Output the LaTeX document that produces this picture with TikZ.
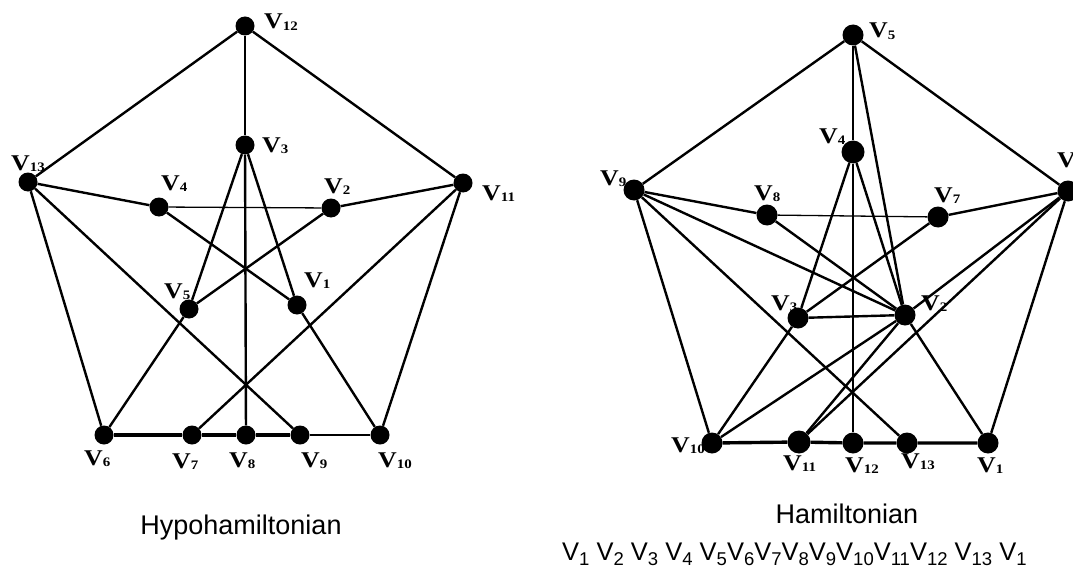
\documentclass[tikz,border=0pt]{standalone}
\usepackage{fontspec}
\setmainfont{Liberation Serif}
\newfontfamily\arialf{Liberation Sans}
\usepackage{graphicx}
\newcommand\vl[1]{\scalebox{1.15}[1]{\fontsize{22.5}{22.5}\selectfont\bfseries V\raisebox{-1.2pt}{\fontsize{13}{13}\selectfont #1}}}
\newcommand\cv[1]{V\raisebox{-5pt}{\fontsize{18.5}{18.5}\selectfont #1}}
\begin{document}
\begin{tikzpicture}[x=1pt,y=-1pt,
  dotA/.style={circle,fill=black,inner sep=0pt,minimum size=19pt},
  dotB/.style={circle,fill=black,inner sep=0pt,minimum size=21pt},
  dotC/.style={circle,fill=black,inner sep=0pt,minimum size=23pt},
  lab/.style={anchor=base west,inner sep=0pt},
  edge/.style={line width=2.4pt},
  thinedge/.style={line width=1.3pt},
  base/.style={line width=3.4pt},
  capt/.style={font=\arialf\fontsize{27}{27}\selectfont,anchor=base,inner sep=0pt}]
\useasboundingbox (0,0) rectangle (1073,575);
% ---------- left graph ----------
\node[dotA] (a12) at (245,26) {};
\node[dotA] (a3) at (245,145) {};
\node[dotA] (a13) at (28,182) {};
\node[dotA] (a11) at (463,183) {};
\node[dotA] (a4) at (159,207) {};
\node[dotA] (a2) at (331,208) {};
\node[dotA] (a5) at (189,309) {};
\node[dotA] (a1) at (297,305) {};
\node[dotA] (a6) at (104,435) {};
\node[dotA] (a7) at (192,435) {};
\node[dotA] (a8) at (246,435) {};
\node[dotA] (a9) at (300,435) {};
\node[dotA] (a10) at (380,435) {};
\node[lab] (la12) at (264,29) {\vl{12}};
\node[lab] (la3) at (262,152) {\vl{3}};
\node[lab] (la13) at (11,170) {\vl{13}};
\node[lab] (la4) at (161,190) {\vl{4}};
\node[lab] (la2) at (324,193) {\vl{2}};
\node[lab] (la11) at (482,200) {\vl{11}};
\node[lab] (la1) at (304,287) {\vl{1}};
\node[lab] (la5) at (164,298) {\vl{5}};
\node[lab] (la6) at (84,465) {\vl{6}};
\node[lab] (la7) at (172,468) {\vl{7}};
\node[lab] (la8) at (229,467) {\vl{8}};
\node[lab] (la9) at (301,467) {\vl{9}};
\node[lab] (la10) at (378,467) {\vl{10}};
\draw[edge] (a12) -- (a13);
\draw[edge] (a12) -- (a11);
\draw[edge] (a12) -- (a3);
\draw[edge] (a3) -- (a8);
\draw[edge] (a3) -- (a5);
\draw[edge] (a3) -- (a1);
\draw[edge] (a13) -- (a4);
\draw[thinedge] (a4) -- (a2);
\draw[edge] (a2) -- (a11);
\draw[edge] (a13) -- (a6);
\draw[edge] (a13) -- (a9);
\draw[edge] (a4) -- (a1);
\draw[edge] (a1) -- (a10);
\draw[edge] (a2) -- (a5);
\draw[edge] (a5) -- (a6);
\draw[edge] (a11) -- (a7);
\draw[edge] (a11) -- (a10);
\draw[base] (a6) -- (a7) -- (a8) -- (a9);
\draw[edge] (a9) -- (a10);
% ---------- right graph ----------
\node[dotB] (b5) at (853,35) {};
\node[dotC] (b4) at (853,152) {};
\node[dotB] (b9) at (634,190) {};
\node[dotB] (b6) at (1068,191) {};
\node[dotB] (b8) at (767,215) {};
\node[dotB] (b7) at (938,217) {};
\node[dotB] (b3) at (798,318) {};
\node[dotB] (b2) at (905,315) {};
\node[dotB] (b10) at (712,443) {};
\node[dotC] (b11) at (799,442) {};
\node[dotB] (b12) at (853,443) {};
\node[dotB] (b13) at (907,443) {};
\node[dotB] (b1) at (988,443) {};
\node[lab] (lb5) at (869,38) {\vl{5}};
\node[lab] (lb4) at (819,143) {\vl{4}};
\node[lab] (lb9) at (600,185) {\vl{9}};
\node[lab] (lb8) at (754,200) {\vl{8}};
\node[lab] (lb7) at (934,202) {\vl{7}};
\node[lab] (lb6) at (1057,167) {\vl{6}};
\node[lab] (lb3) at (771,310) {\vl{3}};
\node[lab] (lb2) at (921,310) {\vl{2}};
\node[lab] (lb10) at (671,452) {\vl{10}};
\node[lab] (lb11) at (783,470) {\vl{11}};
\node[lab] (lb12) at (845,472) {\vl{12}};
\node[lab] (lb13) at (901,468) {\vl{13}};
\node[lab] (lb1) at (977,472) {\vl{1}};
\draw[edge] (b5) -- (b9);
\draw[edge] (b5) -- (b6);
\draw[edge] (b5) -- (b4);
\draw[edge] (b4) -- (b12);
\draw[edge] (b5) -- (b2);
\draw[edge] (b4) -- (b2);
\draw[edge] (b4) -- (b3);
\draw[edge] (b9) -- (b8);
\draw[thinedge] (b8) -- (b7);
\draw[edge] (b7) -- (b6);
\draw[edge] (b9) -- (b10);
\draw[edge] (b9) -- (b13);
\draw[edge] (b9) -- (b2);
\draw[edge] (b8) -- (b2);
\draw[edge] (b3) -- (b7);
\draw[edge] (b3) -- (b2);
\draw[edge] (b3) -- (b10);
\draw[edge] (b10) -- (b2);
\draw[edge] (b2) -- (b6);
\draw[edge] (b2) -- (b11);
\draw[edge] (b11) -- (b6);
\draw[edge] (b2) -- (b1);
\draw[edge] (b6) -- (b1);
\draw[base] (b10) -- (b11) -- (b12) -- (b13) -- (b1);
% ---------- captions ----------
\node[capt] (cap1) at (241,534) {Hypohamiltonian};
\node[capt] (cap2) at (847,523) {Hamiltonian};
\node[anchor=base west,inner sep=0pt,font=\arialf\fontsize{25.5}{25.5}\selectfont] (cyc) at (562,560)
  {\cv{1} \cv{2} \cv{3} \cv{4} \cv{5}\cv{6}\cv{7}\cv{8}\cv{9}\cv{10}\cv{11}\cv{12} \cv{13} \cv{1}};
\end{tikzpicture}
\end{document}
